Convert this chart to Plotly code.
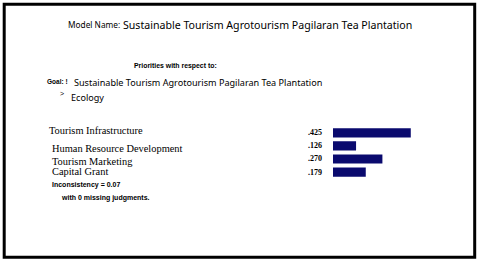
import plotly.graph_objects as go

model_name = "Sustainable Tourism Agrotourism Pagilaran Tea Plantation"
goal_text = "Sustainable Tourism Agrotourism Pagilaran Tea Plantation"
sub_goal = "Ecology"
categories = ["Tourism Infrastructure", "Human Resource Development", "Tourism Marketing", "Capital Grant"]
priorities = [0.425, 0.126, 0.270, 0.179]
value_labels = [".425", ".126", ".270", ".179"]
inconsistency = "0.07"
missing = 0

W, H = 480, 262

fig = go.Figure()
fig.add_trace(go.Bar(
    x=priorities, y=categories, orientation="h",
    marker=dict(color="#0a0a6e", line=dict(width=0)),
    width=0.7, hoverinfo="skip", showlegend=False,
))

fig.update_layout(
    width=W, height=H,
    margin=dict(l=0, r=0, t=0, b=0),
    paper_bgcolor="white", plot_bgcolor="rgba(0,0,0,0)",
    xaxis=dict(domain=[333/W, (333+91.5)/W], range=[0, 0.5], visible=False, fixedrange=True),
    yaxis=dict(domain=[(H-178.6)/H, (H-126.3)/H], type="category",
               categoryorder="array", categoryarray=categories,
               range=[3.5, -0.5], visible=False, fixedrange=True),
)

ann = []
# value labels left of bars
for c, v in zip(categories, value_labels):
    ann.append(dict(x=0, xref="x", y=c, yref="y", text=f"<b>{v}</b>", showarrow=False,
                    xanchor="right", yanchor="middle", xshift=-9,
                    font=dict(family="Liberation Serif", size=8, color="black")))
# category labels
label_yshift = [2.5, -2.2, -2.7, 0.3]
for i, c in enumerate(categories):
    ann.append(dict(x=(47 if i == 0 else 50)/W, xref="paper", y=c, yref="y", text=c, showarrow=False,
                    xanchor="left", yanchor="middle", yshift=label_yshift[i],
                    font=dict(family="Liberation Serif", size=10.4, color="black")))

def txt(x, y, text, size, family="Liberation Sans", anchor="left"):
    ann.append(dict(x=x/W, y=1-y/H, xref="paper", yref="paper", text=text, showarrow=False,
                    xanchor=anchor, yanchor="middle",
                    font=dict(family=family, size=size, color="black")))

txt(66, 25, "Model Name:", 8.3, "Noto Sans")
txt(121, 25, model_name, 10.6, "Noto Sans")
txt(132, 66, "<b>Priorities with respect to:</b>", 6.9, "Liberation Sans")
txt(45, 82, "<b>Goal: !</b>", 6.5, "Liberation Sans")
txt(72, 83, goal_text, 9.1, "Noto Sans")
txt(58, 93, ">", 7, "Liberation Sans")
txt(69, 97, sub_goal, 9.1, "Noto Sans")
txt(50, 184.5, f"<b>Inconsistency = {inconsistency}</b>", 7, "Liberation Sans")
txt(59, 198, f"<b>with {missing} missing judgments.</b>", 7, "Liberation Sans")

fig.update_layout(annotations=ann)
fig.add_shape(type="rect", xref="paper", yref="paper",
              x0=4.2/W, x1=474.7/W, y0=1-257.3/H, y1=1-4.2/H,
              line=dict(color="black", width=3), fillcolor="rgba(0,0,0,0)")

fig.write_html("out.html", config=dict(displayModeBar=False),
               post_script="document.body.style.margin='0';document.body.style.overflow='hidden';")
